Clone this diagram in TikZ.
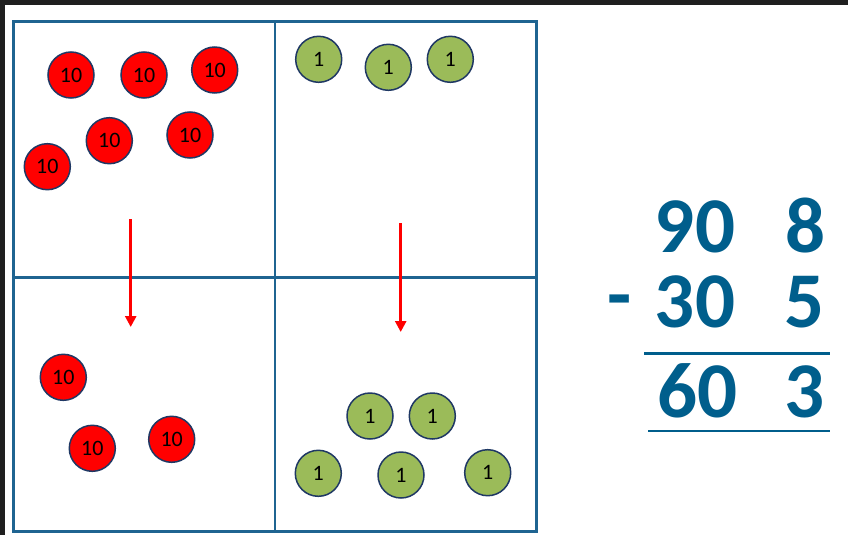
\documentclass[tikz,border=0pt]{standalone}
\usepackage{fontspec}
\setmainfont{Carlito}
\usetikzlibrary{arrows.meta}
\definecolor{frame}{RGB}{31,31,31}
\definecolor{gridblue}{RGB}{31,100,145}
\definecolor{navy}{RGB}{31,56,100}
\definecolor{tenred}{RGB}{255,0,0}
\definecolor{onegreen}{RGB}{155,187,89}
\definecolor{eqblue}{RGB}{0,94,140}
\tikzset{
  counter/.style={circle, draw=navy, line width=1.5pt, minimum size=46pt, inner sep=0pt, font=\fontsize{22}{22}\selectfont, text=black},
  ten/.style={counter, fill=tenred},
  one/.style={counter, fill=onegreen},
  gridline/.style={draw=gridblue, line width=2.2pt},
  movearrow/.style={draw=tenred, line width=2.6pt, -{Triangle[width=11pt,length=11pt]}},
  eqtext/.style={anchor=base, text=eqblue, font=\fontsize{79}{79}\selectfont\bfseries, inner sep=0pt},
  eqline/.style={draw=eqblue, line width=2.8pt}
}
\begin{document}
\begin{tikzpicture}[x=1pt,y=-1pt]
\useasboundingbox (0,0) rectangle (848,535);
\fill[white] (0,0) rectangle (848,535);
\fill[frame] (0,0) rectangle (848,5);
\fill[frame] (0,0) rectangle (5,535);
% grid
\draw[gridline] (13.5,21.5) rectangle (536.5,531.5);
\draw[gridline] (275,21.5) -- (275,531.5);
\draw[gridline] (13.5,277.5) -- (536.5,277.5);
% tens top
\node[ten] (t1) at (71,75) {10};
\node[ten] (t2) at (144,75) {10};
\node[ten] (t3) at (214.7,70) {10};
\node[ten] (t4) at (109.3,140.7) {10};
\node[ten] (t5) at (190,135) {10};
\node[ten] (t6) at (47.3,166.7) {10};
% ones top
\node[one] (o1) at (318.7,59.3) {1};
\node[one] (o2) at (388.3,67.3) {1};
\node[one] (o3) at (450.3,59.3) {1};
% tens bottom
\node[ten] (b1) at (63.3,377.3) {10};
\node[ten] (b2) at (92.3,448.3) {10};
\node[ten] (b3) at (171.7,439.3) {10};
% ones bottom
\node[one] (p1) at (370,416) {1};
\node[one] (p2) at (432.3,416) {1};
\node[one] (p3) at (318.3,473.3) {1};
\node[one] (p4) at (401,475) {1};
\node[one] (p5) at (487.7,472.7) {1};
% arrows
\coordinate (la) at (130.7,219);
\coordinate (lb) at (130.7,327);
\coordinate (ra) at (400.7,223);
\coordinate (rb) at (400.7,332);
\draw[movearrow] (la) -- (lb);
\draw[movearrow] (ra) -- (rb);
% equation
\node[eqtext] (n90) at (695,252) {90};
\node[eqtext] (n8) at (806,252) {8};
\node[eqtext] (minus) at (620,321) {-};
\node[eqtext] (n30) at (695,327) {30};
\node[eqtext] (n5) at (805,327) {5};
\node[eqtext] (n60) at (697.5,417) {60};
\node[eqtext] (n3) at (805,417) {3};
\coordinate (l1a) at (644,353.5);
\coordinate (l1b) at (830,353.5);
\coordinate (l2a) at (648,431);
\coordinate (l2b) at (830,431);
\draw[eqline] (l1a) -- (l1b);
\draw[eqline] (l2a) -- (l2b);
\end{tikzpicture}
\end{document}
